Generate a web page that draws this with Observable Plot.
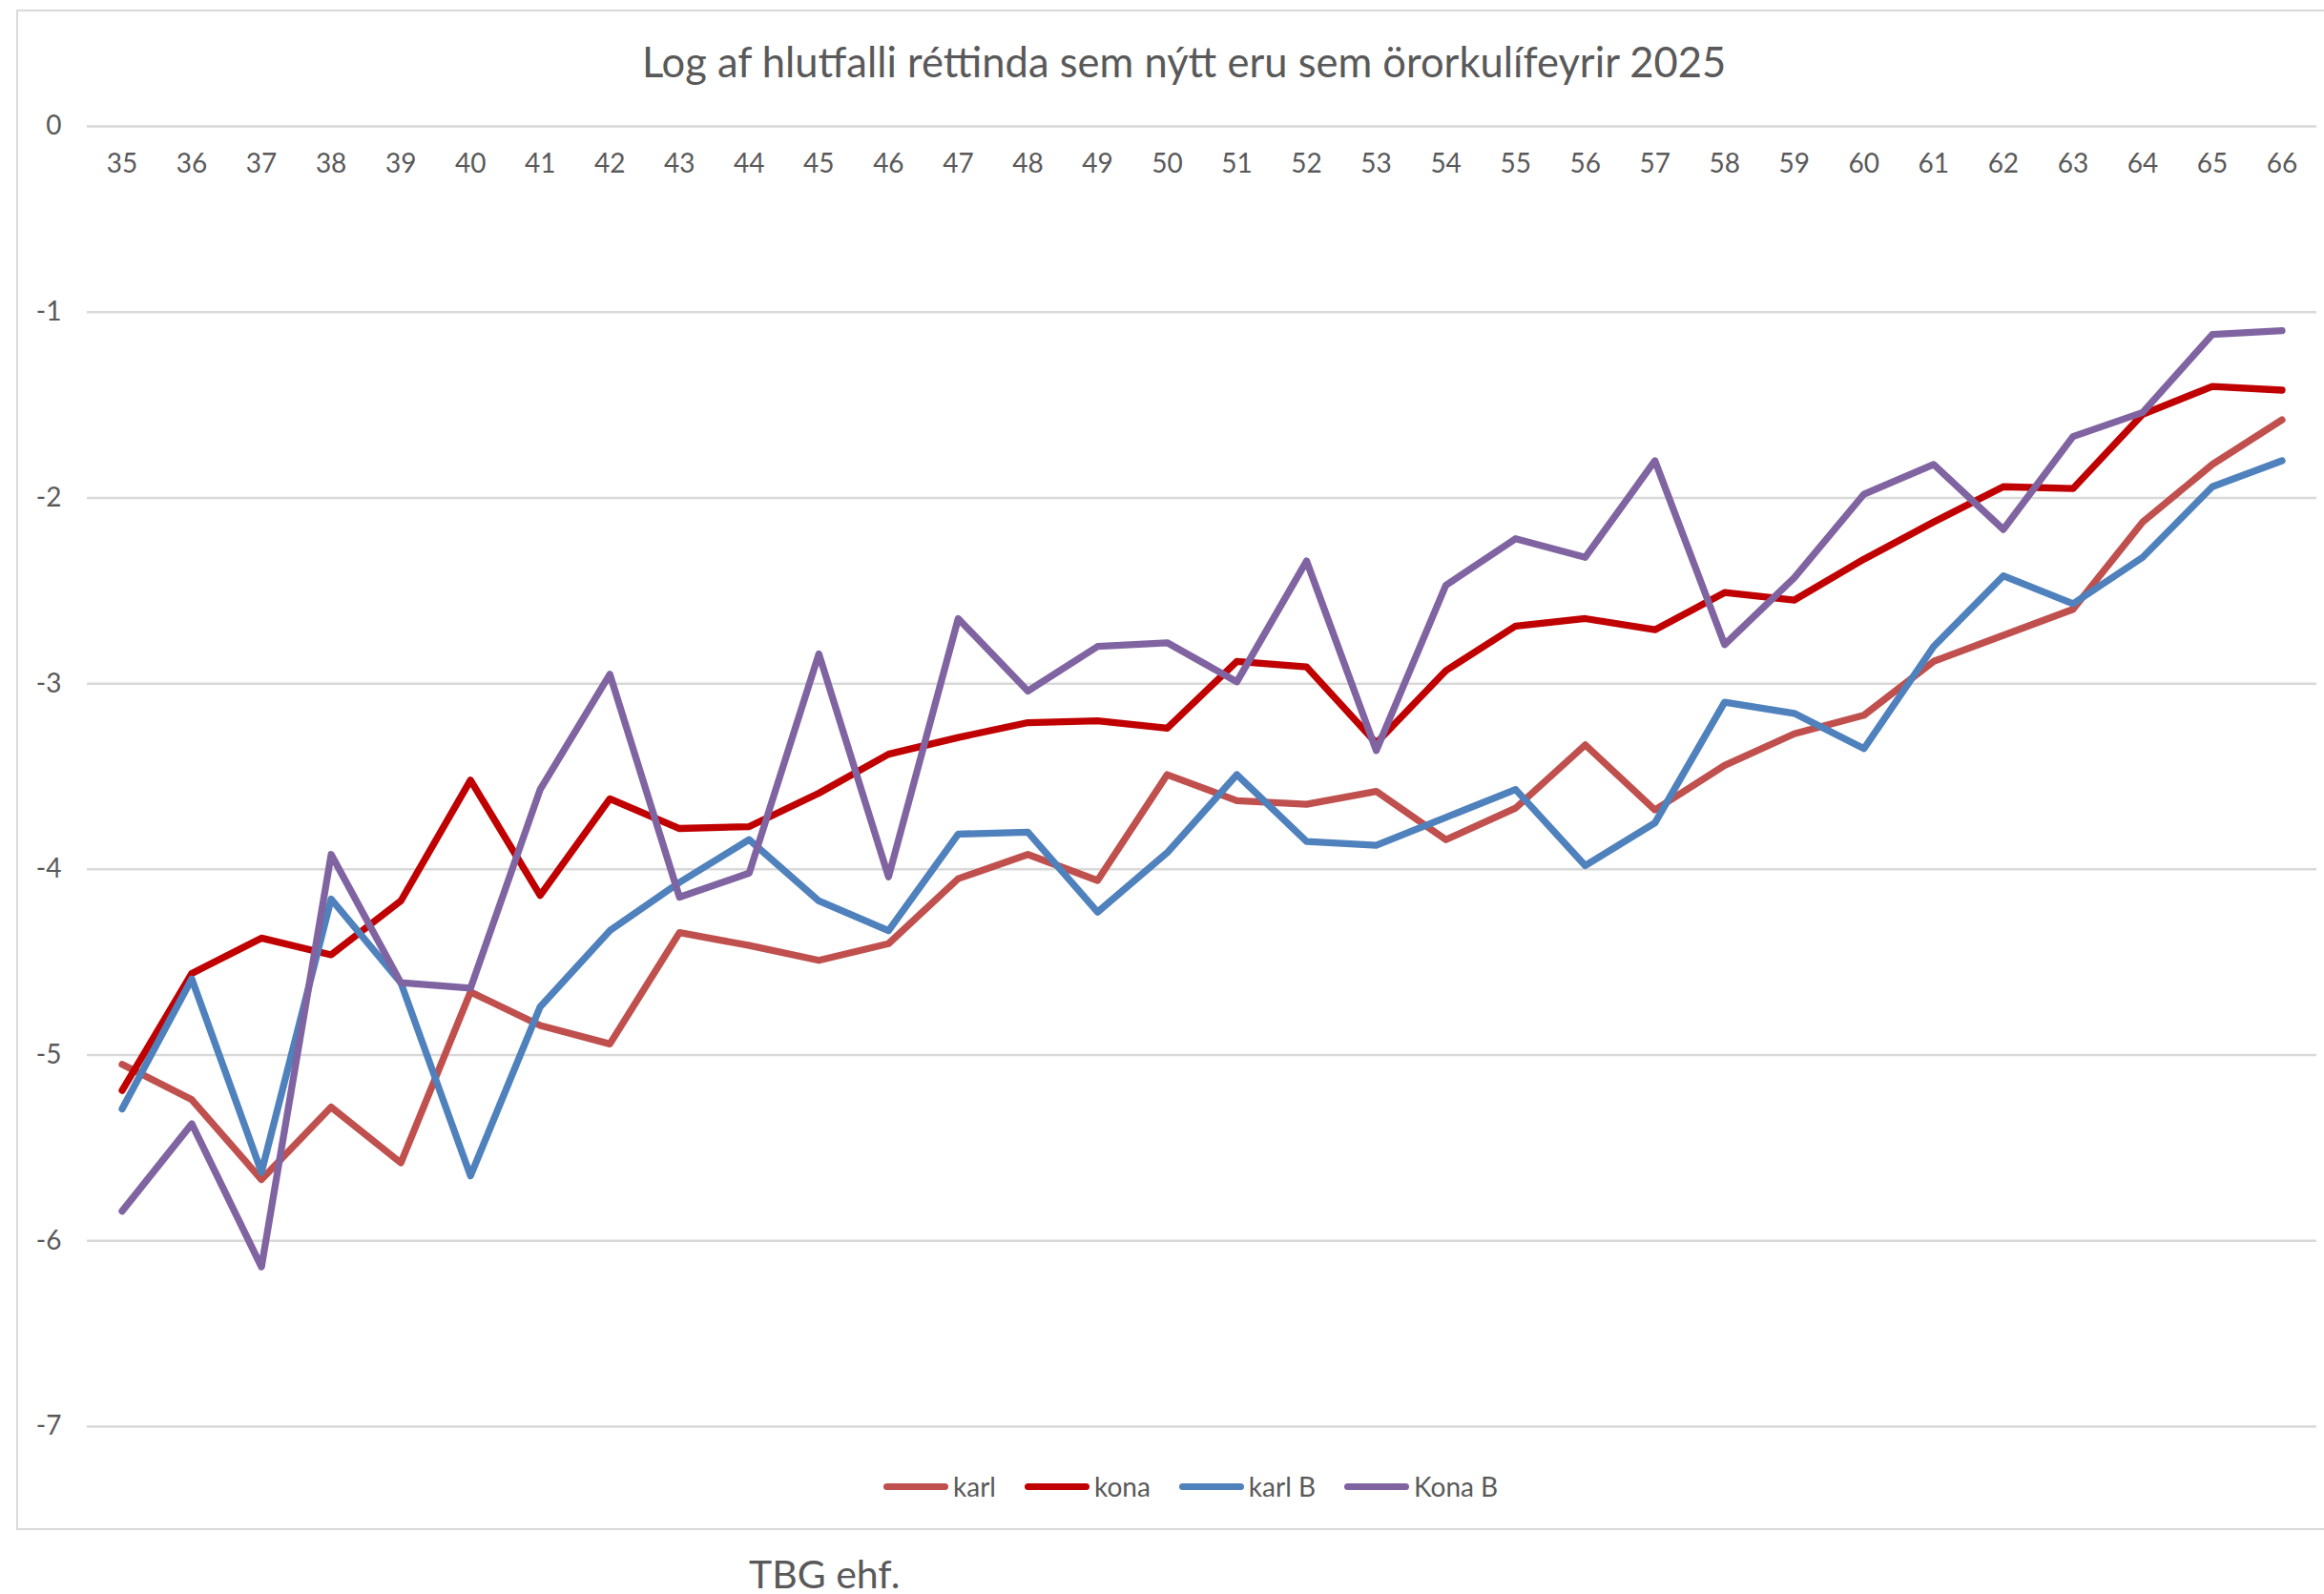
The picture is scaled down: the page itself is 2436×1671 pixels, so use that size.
<!DOCTYPE html>
<html>
<head>
<meta charset="utf-8">
<script src="https://cdn.jsdelivr.net/npm/d3@7"></script>
<script src="https://cdn.jsdelivr.net/npm/@observablehq/plot@0.6"></script>
<style>
  html, body { margin: 0; padding: 0; background: #fff; }
  body { width: 2436px; height: 1671px; position: relative; overflow: hidden; font-family: Lato, "Open Sans", sans-serif; color: #595959; }
  #box { position: absolute; left: 17px; top: 10px; width: 2450px; height: 1594px; border: 2px solid #D9D9D9; box-sizing: border-box; }
  #title { position: absolute; left: 17px; width: 2448px; top: 34px; height: 60px; line-height: 60px; text-align: center; font-size: 43.5px; color: #595959; }
  #chart { position: absolute; left: 0; top: 100px; }
  #legend { position: absolute; left: 926px; top: 1538px; height: 40px; display: flex; align-items: center; font-size: 28px; color: #595959; }
  .sw { width: 68px; height: 7px; border-radius: 3.5px; margin-right: 5px; }
  .item { display: flex; align-items: center; margin-right: 30px; }
  #caption { position: absolute; left: 785px; top: 1622px; height: 56px; line-height: 56px; font-size: 41px; color: #595959; }
</style>
</head>
<body>
<div id="box"></div>
<div id="title">Log af hlutfalli réttinda sem nýtt eru sem örorkulífeyrir 2025</div>
<div id="chart"></div>
<div id="legend"></div>
<div id="caption">TBG ehf.</div>
<script>
const ages = [35,36,37,38,39,40,41,42,43,44,45,46,47,48,49,50,51,52,53,54,55,56,57,58,59,60,61,62,63,64,65,66];
const yTicks = [0,-1,-2,-3,-4,-5,-6,-7];
const seriesNames = ["karl", "kona", "karl B", "Kona B"];
const seriesColors = ["#C0504D", "#C00000", "#4F81BD", "#8064A2"];

const karl  = [-5.05,-5.24,-5.67,-5.28,-5.58,-4.66,-4.84,-4.94,-4.34,-4.41,-4.49,-4.40,-4.05,-3.92,-4.06,-3.49,-3.63,-3.65,-3.58,-3.84,-3.67,-3.33,-3.68,-3.44,-3.27,-3.17,-2.88,-2.74,-2.60,-2.13,-1.82,-1.58];
const kona  = [-5.19,-4.56,-4.37,-4.46,-4.17,-3.52,-4.14,-3.62,-3.78,-3.77,-3.59,-3.38,-3.29,-3.21,-3.20,-3.24,-2.88,-2.91,-3.32,-2.93,-2.69,-2.65,-2.71,-2.51,-2.55,-2.33,-2.13,-1.94,-1.95,-1.55,-1.40,-1.42];
const karlB = [-5.29,-4.59,-5.63,-4.16,-4.61,-5.65,-4.74,-4.33,-4.07,-3.84,-4.17,-4.33,-3.81,-3.80,-4.23,-3.91,-3.49,-3.85,-3.87,-3.72,-3.57,-3.98,-3.75,-3.10,-3.16,-3.35,-2.80,-2.42,-2.57,-2.32,-1.94,-1.80];
const konaB = [-5.84,-5.37,-6.14,-3.92,-4.61,-4.64,-3.57,-2.95,-4.15,-4.02,-2.84,-4.04,-2.65,-3.04,-2.80,-2.78,-2.99,-2.34,-3.36,-2.47,-2.22,-2.32,-1.80,-2.79,-2.43,-1.98,-1.82,-2.17,-1.67,-1.54,-1.12,-1.10];

const seriesValues = [karl, kona, karlB, konaB];
const rows = [];
seriesNames.forEach((name, s) => {
  ages.forEach((age, i) => rows.push({series: name, age, value: seriesValues[s][i]}));
});

const chart = Plot.plot({
  width: 2436,
  height: 1415,
  marginLeft: 91,
  marginRight: 8,
  marginTop: 32,
  marginBottom: 20,
  style: {fontFamily: "Lato, 'Open Sans', sans-serif", fontSize: "28px", color: "#595959", background: "transparent", overflow: "visible"},
  x: {domain: [34.5, 66.5], axis: null},
  y: {domain: [-7, 0]},
  color: {domain: seriesNames, range: seriesColors},
  marks: [
    Plot.ruleY(yTicks, {stroke: "#D9D9D9", strokeWidth: 2.5}),
    Plot.axisY(yTicks, {tickSize: 0, tickPadding: 27, tickFormat: d => String(d), fontSize: 28, label: null, fill: "#595959"}),
    Plot.text(ages, {x: d => d, y: () => 0, text: d => String(d), dy: 40, fontSize: 28, fill: "#595959"}),
    Plot.line(rows, {x: "age", y: "value", z: "series", stroke: "series", strokeWidth: 7.3, strokeLinejoin: "round", strokeLinecap: "round"})
  ]
});
document.getElementById("chart").appendChild(chart);

const legend = document.getElementById("legend");
seriesNames.forEach((name, i) => {
  const item = document.createElement("div");
  item.className = "item";
  const sw = document.createElement("div");
  sw.className = "sw";
  sw.style.background = seriesColors[i];
  const lbl = document.createElement("span");
  lbl.textContent = name;
  item.appendChild(sw);
  item.appendChild(lbl);
  legend.appendChild(item);
});
</script>
</body>
</html>
